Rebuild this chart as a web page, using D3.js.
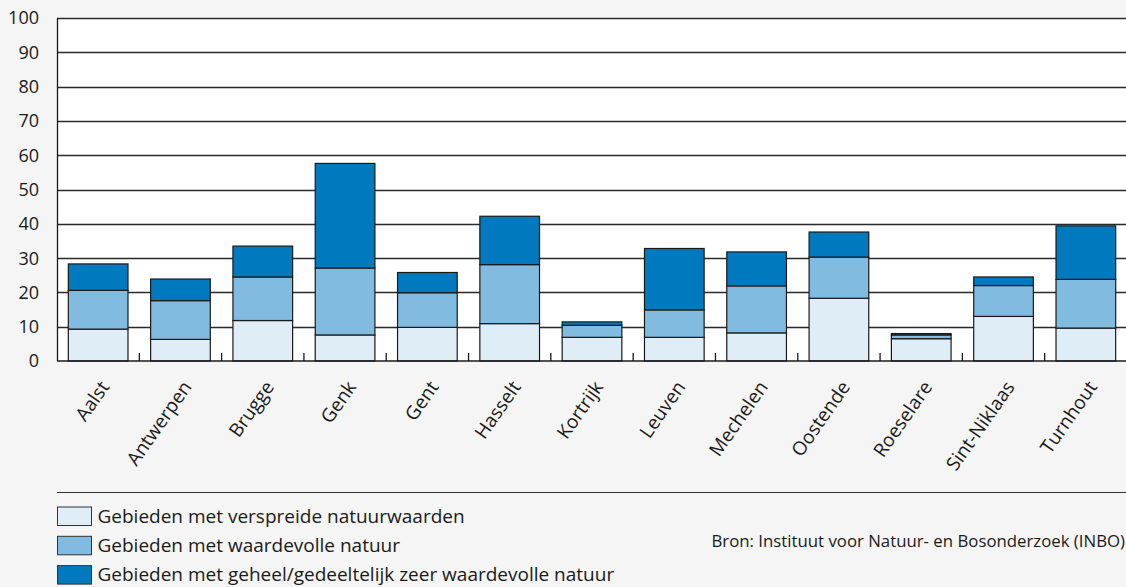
<!DOCTYPE html>
<html>
<head>
<meta charset="utf-8">
<script src="https://cdn.jsdelivr.net/npm/d3@7"></script>
<style>
  body { margin: 0; background: #f5f5f5; }
  svg { display: block; font-family: "Open Sans", "Noto Sans", sans-serif; }
</style>
</head>
<body>
<div id="chart"></div>
<script>
// cities and the three stacked segments (percent)
const cities = ["Aalst", "Antwerpen", "Brugge", "Genk", "Gent", "Hasselt", "Kortrijk",
  "Leuven", "Mechelen", "Oostende", "Roeselare", "Sint-Niklaas", "Turnhout"];
const verspreid = [9.3, 6.3, 11.8, 7.6, 9.8, 10.9, 6.9, 6.9, 8.2, 18.3, 6.5, 13.0, 9.6];
const waardevol = [11.3, 11.3, 12.7, 19.5, 10.1, 17.2, 3.5, 8.0, 13.7, 12.0, 1.1, 9.0, 14.2];
const zeerWaardevol = [7.7, 6.3, 9.0, 30.5, 5.9, 14.1, 1.0, 17.9, 9.9, 7.3, 0.4, 2.5, 15.6];

const seriesNames = [
  "Gebieden met verspreide natuurwaarden",
  "Gebieden met waardevolle natuur",
  "Gebieden met geheel/gedeeltelijk zeer waardevolle natuur"
];
const seriesColors = ["#dfedf7", "#81bbe0", "#0079be"];
const yTicks = [0, 10, 20, 30, 40, 50, 60, 70, 80, 90, 100];
const source = "Bron: Instituut voor Natuur- en Bosonderzoek (INBO)";

const width = 1126, height = 587;
const margin = { top: 18, left: 57, right: -1, bottom: 226 };

const svg = d3.select("#chart").append("svg")
  .attr("width", width).attr("height", height);

const x = d3.scaleBand()
  .domain(cities)
  .range([margin.left, width - margin.right])
  .paddingInner(0.275)
  .paddingOuter(0.1375);

const y = d3.scaleLinear()
  .domain([0, 100])
  .range([height - margin.bottom, margin.top]);

// plot background
svg.append("rect")
  .attr("x", margin.left).attr("y", y(100))
  .attr("width", width - margin.left + 5).attr("height", y(0) - y(100))
  .attr("fill", "#fff");

// gridlines
svg.append("g")
  .selectAll("line")
  .data(yTicks.filter(d => d > 0))
  .join("line")
  .attr("x1", margin.left).attr("x2", width + 5)
  .attr("y1", d => Math.round(y(d)) + 0.5).attr("y2", d => Math.round(y(d)) + 0.5)
  .attr("stroke", "#2a2a2a").attr("stroke-width", 1.3);

// y labels
svg.append("g")
  .selectAll("text")
  .data(yTicks)
  .join("text")
  .attr("x", 39)
  .attr("y", d => y(d))
  .attr("dy", "0.36em")
  .attr("text-anchor", "end")
  .attr("font-size", 18)
  .attr("fill", "#1a1a1a")
  .text(d => d);

// stacked bars
const table = cities.map((c, i) => ({
  city: c, s0: verspreid[i], s1: waardevol[i], s2: zeerWaardevol[i]
}));
const stack = d3.stack().keys(["s0", "s1", "s2"])(table);

svg.append("g")
  .selectAll("g")
  .data(stack)
  .join("g")
  .attr("fill", (d, i) => seriesColors[i])
  .selectAll("rect")
  .data(d => d)
  .join("rect")
  .attr("x", d => x(d.data.city))
  .attr("y", d => y(d[1]))
  .attr("width", x.bandwidth())
  .attr("height", d => y(d[0]) - y(d[1]))
  .attr("stroke", "#1a1a1a")
  .attr("stroke-width", 1.2);

// left border, bottom axis, ticks between categories
svg.append("line")
  .attr("x1", margin.left + 0.5).attr("x2", margin.left + 0.5)
  .attr("y1", y(100)).attr("y2", y(0))
  .attr("stroke", "#1a1a1a").attr("stroke-width", 1.3);

svg.append("line")
  .attr("x1", margin.left).attr("x2", width + 5)
  .attr("y1", y(0)).attr("y2", y(0))
  .attr("stroke", "#1a1a1a").attr("stroke-width", 1.6);

svg.append("g")
  .selectAll("line")
  .data(cities.slice(1))
  .join("line")
  .attr("x1", d => x(d) - x.step() * x.paddingInner() / 2)
  .attr("x2", d => x(d) - x.step() * x.paddingInner() / 2)
  .attr("y1", y(0)).attr("y2", y(0) - 8)
  .attr("stroke", "#1a1a1a").attr("stroke-width", 1.3);

// rotated category labels
svg.append("g")
  .selectAll("text")
  .data(cities)
  .join("text")
  .attr("transform", d => `translate(${x(d) + x.bandwidth() / 2 + 12},${y(0) + 26}) rotate(-55)`)
  .attr("text-anchor", "end")
  .attr("font-size", 19)
  .attr("fill", "#1a1a1a")
  .text(d => d);

// separator line above legend
svg.append("line")
  .attr("x1", 57).attr("x2", width)
  .attr("y1", 492.5).attr("y2", 492.5)
  .attr("stroke", "#333").attr("stroke-width", 1.2);

// legend
const legend = svg.append("g")
  .selectAll("g")
  .data(seriesNames)
  .join("g")
  .attr("transform", (d, i) => `translate(57.5,${507 + i * 29.3})`);

legend.append("rect")
  .attr("width", 34).attr("height", 18.5)
  .attr("fill", (d, i) => seriesColors[i])
  .attr("stroke", "#333").attr("stroke-width", 1);

legend.append("text")
  .attr("x", 40).attr("y", 9.3)
  .attr("dy", "0.34em")
  .attr("font-size", 19)
  .attr("fill", "#1a1a1a")
  .text(d => d);

svg.append("text")
  .attr("x", width - 1).attr("y", 541)
  .attr("dy", "0.36em")
  .attr("text-anchor", "end")
  .attr("font-size", 16.8)
  .attr("fill", "#1a1a1a")
  .text(source);
</script>
</body>
</html>
